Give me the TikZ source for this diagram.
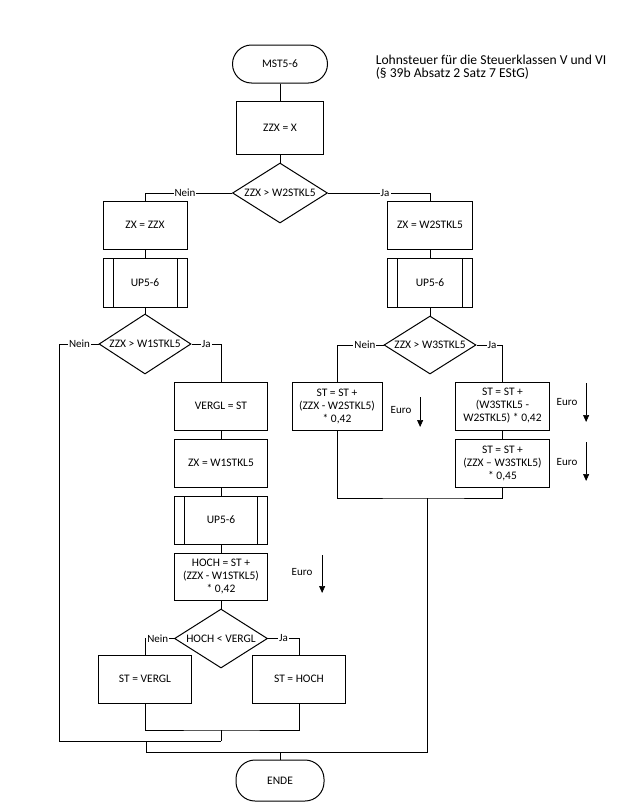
\documentclass[tikz,border=0pt]{standalone}
\usepackage{fontspec}
\setmainfont{Carlito}
\usetikzlibrary{positioning, shapes.geometric, arrows.meta}

\begin{document}
\begin{tikzpicture}[
        x=1pt, y=-1pt,
        line width=1pt,
        every node/.style={font=\fontsize{11.5}{13}\selectfont},
        terminal/.style={draw, rounded corners=19pt, minimum width=93pt, minimum height=39pt},
        process/.style={draw, align=center, minimum width=90pt, minimum height=48pt, inner sep=1pt},
        subproc/.style={process, path picture={
            \draw ([xshift=10pt]path picture bounding box.north west) -- ([xshift=10pt]path picture bounding box.south west);
            \draw ([xshift=-10pt]path picture bounding box.north east) -- ([xshift=-10pt]path picture bounding box.south east);}},
        decision/.style={draw, diamond, aspect=1.6, inner sep=0pt, minimum width=93pt, minimum height=59pt},
        branch/.style={fill=white, inner sep=1pt, font=\fontsize{11}{12}\selectfont},
        euro/.style={font=\fontsize{11}{12}\selectfont},
        euroarrow/.style={line width=0.7pt, -{Triangle[width=6pt,length=7pt]}}
        ]
        \useasboundingbox (0,0) rectangle (630,806);

        % Nodes
        \node[terminal, minimum width=95pt, minimum height=38pt] (start) at (280,64) {MST5-6};
        \node[anchor=west, align=left, font=\fontsize{13.6}{13}\selectfont] (title) at (372,67)
            {Lohnsteuer für die Steuerklassen V und VI\\(§ 39b Absatz 2 Satz 7 EStG)};
        \node[process, below=17pt of start, minimum width=87pt, minimum height=53pt] (zzx) {ZZX = X};
        \node[decision, below=8pt of zzx, minimum width=95pt, minimum height=60pt] (cmp1) {ZZX > W2STKL5};

        % left branch
        \node[process, minimum width=84pt] (zxa) at (145,225) {ZX = ZZX};
        \node[subproc, below=8pt of zxa, minimum width=84pt, minimum height=49pt] (upa) {UP5-6};
        \node[decision, below=6pt of upa, minimum width=92pt, minimum height=60pt] (cmp2) {ZZX > W1STKL5};
        \node[process, minimum width=93pt] (vergl) at (221,406) {VERGL = ST};
        \node[process, below=8pt of vergl, minimum width=93pt] (zxc) {ZX = W1STKL5};
        \node[subproc, below=8pt of zxc, minimum width=93pt] (upc) {UP5-6};
        \node[process, below=8pt of upc, minimum width=93pt, minimum height=47pt] (hoch)
            {HOCH = ST +\\(ZZX - W1STKL5)\\* 0,42};
        \node[decision, below=8pt of hoch, minimum width=93pt, minimum height=59pt] (cmp4) {HOCH < VERGL};
        \node[process, minimum width=93pt] (stv) at (145,679) {ST = VERGL};
        \node[process, minimum width=93pt] (sth) at (299,679) {ST = HOCH};

        % right branch
        \node[process, minimum width=85pt] (zxb) at (430,225) {ZX = W2STKL5};
        \node[subproc, below=8pt of zxb, minimum width=85pt, minimum height=49pt] (upb) {UP5-6};
        \node[decision, below=8pt of upb, minimum width=92pt, minimum height=58pt] (cmp3) {ZZX > W3STKL5};
        \node[process, minimum width=90pt] (stl) at (337,406) {ST = ST +\\(ZZX - W2STKL5)\\* 0,42};
        \node[process, minimum width=94pt] (str1) at (502.5,406) {ST = ST +\\(W3STKL5 -\\W2STKL5) * 0,42};
        \node[process, below=8pt of str1, minimum width=94pt] (str2) {ST = ST +\\(ZZX – W3STKL5)\\* 0,45};

        \node[terminal, minimum width=88pt, minimum height=41pt] (ende) at (280,780.5) {ENDE};

        % Euro notes
        \node[euro] (euro1) at (401,410) {Euro};
        \node[euro] (euro2) at (567,402) {Euro};
        \node[euro] (euro3) at (567,462) {Euro};
        \node[euro] (euro4) at (302,572) {Euro};
        \draw[euroarrow] ([shift={(5,-13)}]euro1.east) -- ++(0,30);
        \draw[euroarrow] ([shift={(5,-19)}]euro2.east) -- ++(0,39);
        \draw[euroarrow] ([shift={(5,-20)}]euro3.east) -- ++(0,39);
        \draw[euroarrow] ([shift={(6,-17)}]euro4.east) -- ++(0,38);

        % Joins
        \coordinate (join3) at (427,498);
        \coordinate (join4) at (221,730);
        \coordinate (join5) at (221,741);
        \coordinate (nein2) at (59,741);
        \coordinate (join6) at (146,752);

        % Arrows
        \draw (start) -- (zzx);
        \draw (zzx) -- (cmp1);
        \draw (cmp1.west) -| node[branch, pos=0.27] {Nein} (zxa.north);
        \draw (cmp1.east) -| node[branch, pos=0.28] {Ja} (zxb.north);
        \draw (zxa) -- (upa);
        \draw (upa) -- (cmp2);
        \draw (zxb) -- (upb);
        \draw (upb) -- (cmp3);
        \draw (cmp2.east) -| node[branch, pos=0.25] {Ja} (vergl.north);
        \draw (cmp2.west) -| node[branch, pos=0.24] {Nein} (nein2) -- (join5);
        \draw (vergl) -- (zxc);
        \draw (zxc) -- (upc);
        \draw (upc) -- (hoch);
        \draw (hoch) -- (cmp4);
        \draw (cmp4.west) -| node[branch, pos=0.28] {Nein} (stv.north);
        \draw (cmp4.east) -| node[branch, pos=0.25] {Ja} (sth.north);
        \draw (cmp3.west) -| node[branch, pos=0.2] {Nein} (stl.north);
        \draw (cmp3.east) -| node[branch, pos=0.3] {Ja} (str1.north);
        \draw (str1) -- (str2);
        \draw (stv.south) |- (join4) -| (sth.south);
        \draw (join4) -- (join5);
        \draw (stl.south) |- (join3) -| (str2.south);
        \draw (join6 |- join5) -- (join6) -| (join3);
        \draw (ende) -- (ende.north |- join6);
    \end{tikzpicture}
\end{document}
